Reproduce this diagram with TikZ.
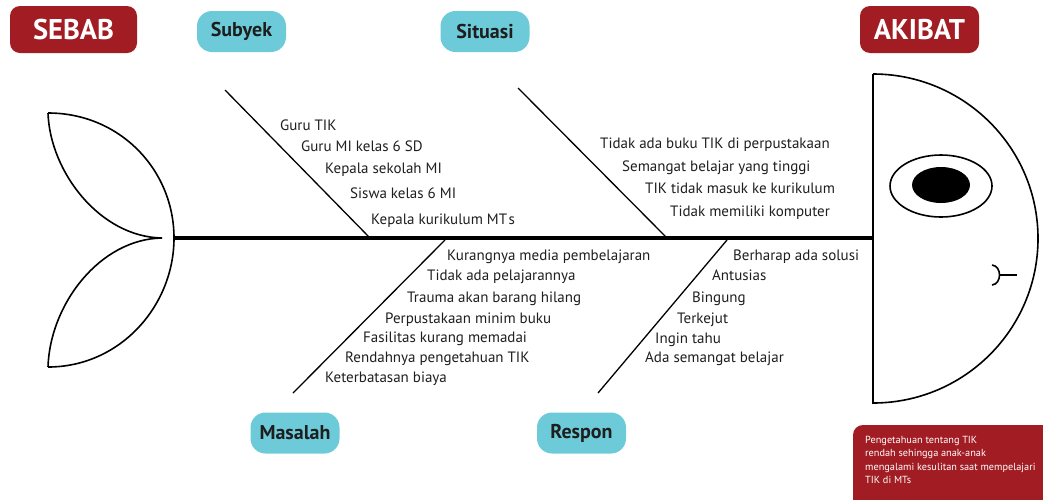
\documentclass[tikz,border=0pt]{standalone}
\usepackage{fontspec}
\setmainfont{PT Sans}
\definecolor{fbred}{HTML}{A11C23}
\definecolor{fbcyan}{HTML}{6DCBD9}
\definecolor{fbtext}{HTML}{1E1E1E}
\begin{document}
\begin{tikzpicture}[x=1pt,y=-1pt,
 redlbl/.style={fill=fbred, rounded corners=10pt, text=white, font=\bfseries\fontsize{28.5}{28.5}\selectfont, minimum height=47pt, inner sep=0pt},
 cyanlbl/.style={fill=fbcyan, rounded corners=15pt, text=fbtext, font=\bfseries\fontsize{20}{20}\selectfont, minimum width=89pt, minimum height=41pt, inner sep=0pt},
 item/.style={anchor=west, inner sep=0pt, text height=1.5ex, text depth=0.25ex, font=\fontsize{15}{15}\selectfont, text=fbtext},
 bone/.style={line width=1.3pt},
 outline/.style={line width=1.6pt},
 spine/.style={line width=4pt}
]
\useasboundingbox (0,0) rectangle (1043,499);

% labels
\node[redlbl, minimum width=127pt] (sebab) at (73.5,29.5) {SEBAB};
\node[redlbl, minimum width=119pt] (akibat) at (919.5,29.5) {AKIBAT};
\node[cyanlbl] (subyek) at (241.5,31.5) {Subyek};
\node[cyanlbl] (situasi) at (485,31.5) {Situasi};
\node[cyanlbl] (masalah) at (295,433) {Masalah};
\node[cyanlbl] (respon) at (581.5,433) {Respon};

% tail
\coordinate (tt) at (48,113);
\coordinate (tb) at (48,367);
\coordinate (tj) at (174,238);
\coordinate (ti) at (162,238);
\draw[outline] (tt) .. controls (120,113) and (174,170) .. (tj);
\draw[outline] (tb) .. controls (120,367) and (174,306) .. (tj);
\draw[outline] (tt) .. controls (50,172) and (100,237) .. (ti);
\draw[outline] (tb) .. controls (50,304) and (100,239) .. (ti);

% head
\coordinate (ht) at (873,74);
\coordinate (hb) at (873,403);
\coordinate (hm) at (873,238);
\draw[outline] (ht) -- (hb) arc[start angle=90, end angle=-90, x radius=165, y radius=164.5];
\draw[outline] (941,186) ellipse[x radius=51, y radius=31];
\fill (941,185) ellipse[x radius=29, y radius=18];
\coordinate (mt) at (992,265);
\coordinate (mb) at (992,285);
\coordinate (mc) at (1000,275);
\coordinate (me) at (1017,275);
\draw[outline] (mt) .. controls (1002,266) and (1002,284) .. (mb);
\draw[outline] (mc) -- (me);

% spine
\draw[spine] (tj) -- (hm);

% bones
\coordinate (b1a) at (225,90);  \coordinate (b1b) at (370,238);
\coordinate (b2a) at (518,88);  \coordinate (b2b) at (667,238);
\coordinate (b3a) at (445,240); \coordinate (b3b) at (293,393);
\coordinate (b4a) at (727,240); \coordinate (b4b) at (598,393);
\draw[bone] (b1a) -- (b1b);
\draw[bone] (b2a) -- (b2b);
\draw[bone] (b3a) -- (b3b);
\draw[bone] (b4a) -- (b4b);

% Subyek items
\node[item] (s1) at (280,127) {Guru TIK};
\node[item] (s2) at (301,148) {Guru MI kelas 6 SD};
\node[item] (s3) at (325,170) {Kepala sekolah MI};
\node[item] (s4) at (350,195) {Siswa kelas 6 MI};
\node[item] (s5) at (371,221) {Kepala kurikulum MT\kern1.5pt s};

% Situasi items
\node[item] (t1) at (600,145) {Tidak ada buku TIK di perpustakaan};
\node[item] (t2) at (622,168) {Semangat belajar yang tinggi};
\node[item] (t3) at (645,190) {TIK tidak masuk ke kurikulum};
\node[item] (t4) at (670,213) {Tidak memiliki komputer};

% Masalah items
\node[item] (m1) at (447,257) {Kurangnya media pembelajaran};
\node[item] (m2) at (427,277) {Tidak ada pelajarannya};
\node[item] (m3) at (407,299) {Trauma akan barang hilang};
\node[item] (m4) at (385,320) {Perpustakaan minim buku};
\node[item] (m5) at (363,339) {Fasilitas kurang memadai};
\node[item] (m6) at (345,359) {Rendahnya pengetahuan TIK};
\node[item] (m7) at (325,379) {Keterbatasan biaya};

% Respon items
\node[item] (r1) at (733,257) {Berharap ada solusi};
\node[item] (r2) at (712,277) {Antusias};
\node[item] (r3) at (692,299) {Bingung};
\node[item] (r4) at (677,320) {Terkejut};
\node[item] (r5) at (655,340) {Ingin tahu};
\node[item] (r6) at (645,359) {Ada semangat belajar};

% result box
\fill[fbred, rounded corners=10pt] (853,425) rectangle (1080,510);
\node[anchor=north west, align=left, inner sep=0pt, text=white, font=\fontsize{10.3}{13.3}\selectfont] (hasil) at (865,436) {Pengetahuan tentang TIK\\rendah sehingga anak-anak\\mengalami kesulitan saat mempelajari\\TIK di MTs};
\end{tikzpicture}
\end{document}
